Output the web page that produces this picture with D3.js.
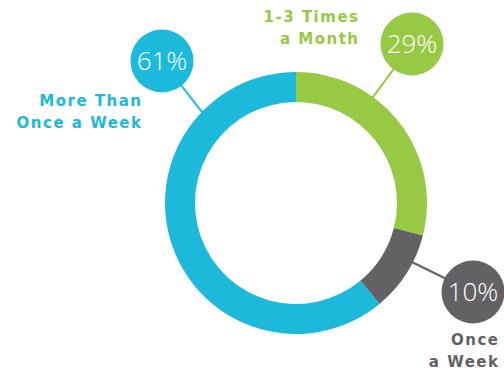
<!DOCTYPE html>
<html>
<head>
<meta charset="utf-8">
<script src="https://cdn.jsdelivr.net/npm/d3@7"></script>
<style>
  body { margin: 0; background: #fff; }
  svg text { font-family: "Open Sans", sans-serif; }
  svg text.label { font-family: "DejaVu Sans", sans-serif; }
</style>
</head>
<body>
<div id="chart"></div>
<script>
// data
const categories = ["1-3 Times a Month", "Once a Week", "More Than Once a Week"];
const values = [29, 10, 61];
const labelLines = [["1-3 Times", "a Month"], ["Once", "a Week"], ["More Than", "Once a Week"]];
const colors = ["#98c945", "#636164", "#1db9da"];

// layout for the callouts (hand placed, like the original)
const callouts = [
    { cx: 412, cy: 44, angle: 36, textX: 358, textY: 22 },
    { cx: 473, cy: 292, angle: 117, textX: 498, textY: 345 },
    { cx: 162, cy: 61, angle: 314, textX: 141, textY: 106 }
];

const size = { width: 504, height: 372, cx: 296, cy: 203, inner: 101, outer: 131, bubble: 31.5 };

const svg = d3.select("#chart")
    .append("svg")
    .attr("width", size.width)
    .attr("height", size.height);

const pie = d3.pie().sort(null).value(d => d);
const arcs = pie(values);

const arc = d3.arc()
    .innerRadius(size.inner)
    .outerRadius(size.outer);

const g = svg.append("g")
    .attr("transform", "translate(" + size.cx + "," + size.cy + ")");

g.selectAll("path")
    .data(arcs)
    .enter()
    .append("path")
    .attr("d", arc)
    .attr("fill", (d, i) => colors[i]);

// leader lines from bubble to ring edge
callouts.forEach((c, i) => {
    const a = c.angle * Math.PI / 180;
    const ex = size.cx + Math.sin(a) * (size.outer - 1);
    const ey = size.cy - Math.cos(a) * (size.outer - 1);
    svg.append("line")
        .attr("x1", c.cx).attr("y1", c.cy)
        .attr("x2", ex).attr("y2", ey)
        .attr("stroke", colors[i])
        .attr("stroke-width", 2);

    svg.append("circle")
        .attr("cx", c.cx).attr("cy", c.cy)
        .attr("r", size.bubble)
        .attr("fill", colors[i]);

    svg.append("text")
        .attr("x", c.cx).attr("y", c.cy + 9)
        .attr("text-anchor", "middle")
        .attr("fill", "#fff")
        .attr("font-size", 26)
        .attr("font-weight", 300)
        .text(values[i] + "%");

    const t = svg.append("text")
        .attr("class", "label")
        .attr("text-anchor", "end")
        .attr("fill", colors[i])
        .attr("font-size", 15)
        .attr("font-weight", "bold")
        .attr("letter-spacing", 1.5);
    labelLines[i].forEach((line, j) => {
        t.append("tspan")
            .attr("x", c.textX + 1.5)
            .attr("y", c.textY + j * 21.5)
            .text(line);
    });
});
</script>
</body>
</html>
